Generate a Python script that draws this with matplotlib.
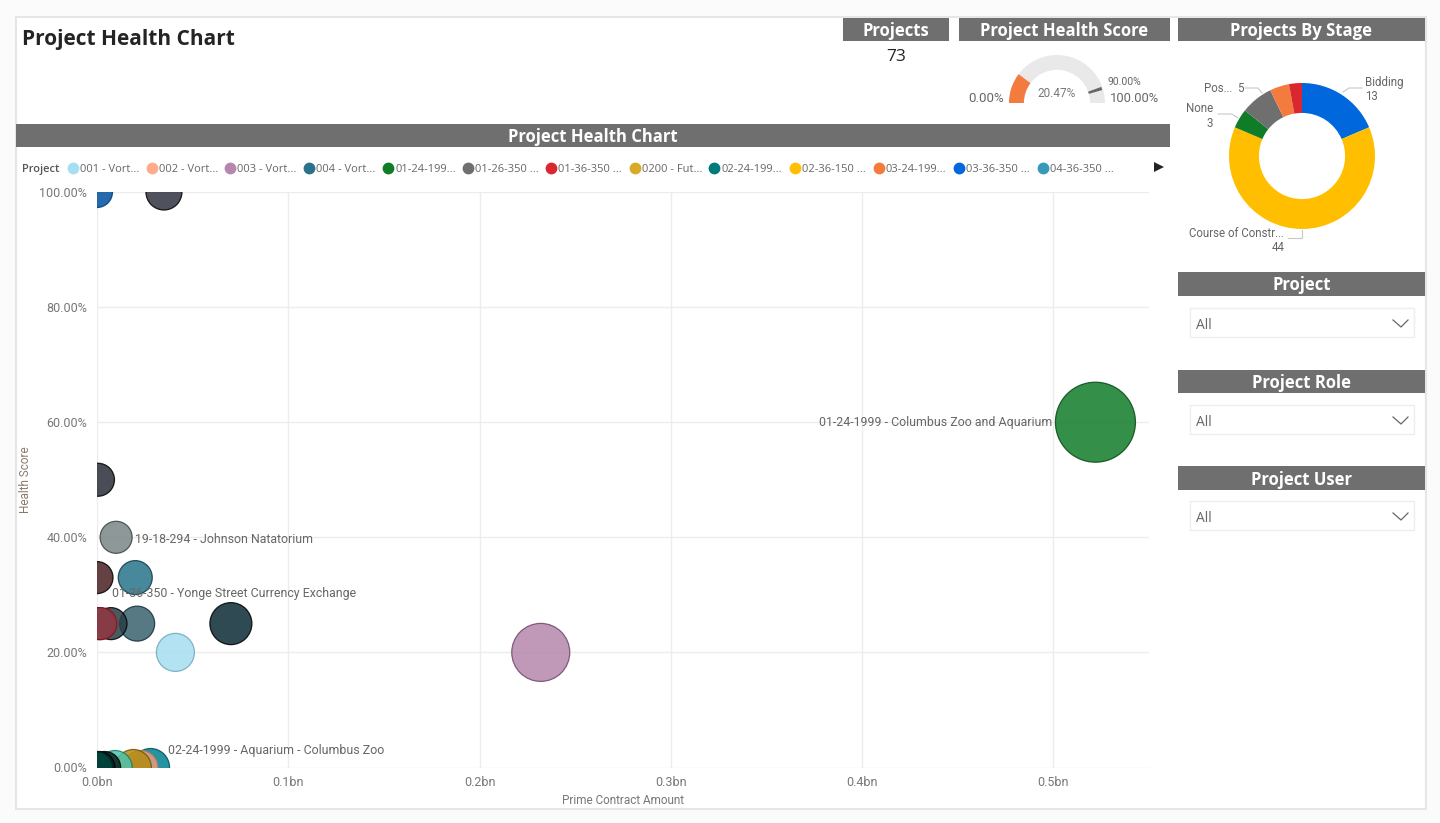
import matplotlib.pyplot as plt              #Biblioteca para gerar gráficos 2D
from matplotlib.patches import Rectangle, Wedge   #Formas usadas nos painéis e no medidor

plt.rcParams['font.family'] = ['Open Sans', 'DejaVu Sans']

cinza_barra = '#6f6f6f'
cinza_texto = '#777777'

#Dados do gráfico de bolhas
projetos_bolha = ['02-36', '01-36', '003', '004', '01-24', '01-26', '0200', '001', '002', '02-24', '03-36', '04-36', '03-24', '05-18', '05-36', '06-24', '07-36', '08-36', '09-24', '19-18', '10-36']
valor_contrato = [0.522, 0.232, 0.041, 0.070, 0.021, 0.0073, 0.001, 0.002, 0.020, 0.0, 0.010, 0.0005, 0.035, 0.0, 0.028, 0.023, 0.019, 0.0095, 0.004, 0.001, 0.0]
nota_saude = [60, 20, 20, 25, 25, 25, 25, 25, 33, 33, 40, 50, 100, 100, 0, 0, 0, 0, 0, 0, 0]
tamanho_bolha = [80, 58, 38, 42, 35, 32, 32, 32, 34, 32, 32, 33, 36, 31, 38, 34, 36, 34, 32, 32, 31]
cor_bolha = ['#107c28', '#b687ac', '#a6dff0', '#0b2a35', '#39626f', '#2a3d45', '#14405a', '#9a3a44', '#28738a', '#4a1f22', '#7a8686', '#2a2d38', '#30343f', '#004f9f', '#007f92', '#e59e7e', '#b58a10', '#4cc4ac', '#0a1d20', '#0a1d20', '#004840']
borda_bolha = ['#0a4a18', '#6e4868', '#6fa8ba', '#000000', '#14303a', '#000000', '#0a2030', '#8a0f18', '#0f3a48', '#000000', '#3a4444', '#000000', '#000000', '#003a78', '#004f5c', '#b07858', '#705408', '#1f7868', '#000000', '#000000', '#002a24']

#Dados da legenda
legenda_nomes = ['001 - Vort...', '002 - Vort...', '003 - Vort...', '004 - Vort...', '01-24-199...', '01-26-350 ...', '01-36-350 ...', '0200 - Fut...', '02-24-199...', '02-36-150 ...', '03-24-199...', '03-36-350 ...', '04-36-350 ...']
legenda_cores = ['#a6dff0', '#ffab8c', '#b687ac', '#28738a', '#107c28', '#6f6f6f', '#d9262f', '#d9a928', '#007a7a', '#ffbf00', '#f47b3e', '#0068dc', '#3599b8']

#Dados do gráfico de rosca
estagios = ['Bidding', 'Course of Construction', 'None', 'Post', 'Other', 'Pre']
estagios_valores = [13, 44, 3, 5, 3, 2]
estagios_cores = ['#0068dc', '#ffbf00', '#107c28', '#6f6f6f', '#f47b3e', '#d9262f']

#Dados do medidor e dos cartões
total_projetos = 73
nota_geral = 20.47
nota_alvo = 90.0


def eixo_em_pixels(fig, x0, y0, x1, y1):
    ax = fig.add_axes([x0 / 1440, 1 - y1 / 823, (x1 - x0) / 1440, (y1 - y0) / 823])
    return ax


def desenhar_paineis(fig):
    ax = fig.add_axes([0, 0, 1, 1])
    ax.set_xlim(0, 1440)
    ax.set_ylim(823, 0)
    ax.axis('off')
    ax.add_patch(Rectangle((15.5, 16.5), 1410, 792, facecolor='white', edgecolor='#e6e6e6', lw=1.5))
    ax.text(22, 39, 'Project Health Chart', fontsize=15, fontweight='bold', color='#252423', va='center')

    barras = [('Projects', 843, 949, 18, 41), ('Project Health Score', 959, 1170, 18, 41), ('Projects By Stage', 1178, 1425, 18, 41),
              ('Project Health Chart', 16, 1170, 124, 147), ('Project', 1178, 1425, 272, 296), ('Project Role', 1178, 1425, 370, 393), ('Project User', 1178, 1425, 466, 490)]
    for nome, x0, x1, y0, y1 in barras:
        ax.add_patch(Rectangle((x0, y0), x1 - x0, y1 - y0, color=cinza_barra, lw=0))
        ax.text((x0 + x1) / 2, (y0 + y1) / 2 + 1.5, nome, color='white', fontsize=12, fontweight='bold', ha='center', va='center')

    ax.text(896, 57, str(total_projetos), fontsize=12.5, color='#252423', ha='center', va='center')

    for y0 in [308, 405, 501]:  #Caixas de seleção
        ax.add_patch(Rectangle((1190, y0), 224, 29, facecolor='white', edgecolor='#eeeeee', lw=1))
        ax.text(1196, y0 + 17, 'All', fontsize=10, color='#666666', va='center')
        ax.plot([1393, 1401, 1408], [y0 + 12, y0 + 19, y0 + 12], color='#666666', lw=0.9)

    #Legenda
    ax.text(22, 169, 'Project', fontsize=8, fontweight='semibold', color='#555555', va='center')
    posicoes = [73, 152, 230, 309, 388, 468, 551, 635, 714, 795, 879, 959, 1043]
    for x, nome, cor in zip(posicoes, legenda_nomes, legenda_cores):
        ax.plot(x, 168, 'o', ms=8.5, color=cor, mew=0)
        ax.text(x + 7, 169, nome, fontsize=8, color='#666666', va='center')
    ax.plot(1159, 167, '>', ms=7, color='#252423', mew=0)

    #Rótulos da rosca
    rotulos = [(1365, 82, 'Bidding', 'left'), (1365, 96, '13', 'left'), (1204, 88, 'Pos...', 'left'), (1240, 88, '5', 'center'),
               (1213, 108, 'None', 'right'), (1213, 123, '3', 'right'), (1284, 233, 'Course of Constr...', 'right'), (1278, 247, '44', 'center')]
    for x, y, texto, alinhamento in rotulos:
        ax.text(x, y, texto, fontsize=8.3, color='#666666', family='Roboto', ha=alinhamento, va='center')
    linhas = [([1343, 1349, 1362], [92, 88, 88]), ([1245, 1258, 1262], [88, 88, 93]), ([1218, 1232, 1238], [114, 114, 118]), ([1288, 1302, 1302], [238, 238, 230])]
    for xs, ys in linhas:
        ax.plot(xs, ys, color='#c8c8c8', lw=0.8)

    #Rótulos do medidor
    ax.text(1057, 93, f'{nota_geral:.2f}%', fontsize=8.5, color='#777777', family='Roboto', ha='center', va='center')
    ax.text(1004, 98, '0.00%', fontsize=9.5, color='#666666', family='Roboto', ha='right', va='center')
    ax.text(1110, 98, '100.00%', fontsize=9.3, color='#666666', family='Roboto', ha='left', va='center')
    ax.text(1108, 82, f'{nota_alvo:.2f}%', fontsize=7.5, color='#666666', family='Roboto', ha='left', va='center')


def gerar_bolhas(fig):
    ax = eixo_em_pixels(fig, 97, 192, 1149, 767.5)
    ax.patch.set_alpha(0)
    area = [(d * 0.72) ** 2 for d in tamanho_bolha]  #Diâmetro em pixels para pontos ao quadrado
    ax.scatter(valor_contrato, nota_saude, s=area, c=cor_bolha, edgecolors=borda_bolha, linewidths=0.9, alpha=0.85, zorder=3)
    ax.set_xlim(0, 0.55)
    ax.set_ylim(0, 100)
    ax.set_xticks([0, 0.1, 0.2, 0.3, 0.4, 0.5])
    ax.set_xticklabels(['0.0bn', '0.1bn', '0.2bn', '0.3bn', '0.4bn', '0.5bn'])
    ax.set_yticks([0, 20, 40, 60, 80, 100])
    ax.set_yticklabels(['0.00%', '20.00%', '40.00%', '60.00%', '80.00%', '100.00%'])
    ax.tick_params(axis='x', length=0, labelsize=9, labelcolor=cinza_texto, pad=6)
    ax.tick_params(axis='y', length=0, labelsize=9, labelcolor=cinza_texto, pad=7)
    plt.setp(ax.get_xticklabels(), family='Roboto')
    plt.setp(ax.get_yticklabels(), family='Roboto')
    for lado in ax.spines.values():
        lado.set_visible(False)
    ax.grid(color='#ececec', lw=1)
    ax.set_axisbelow(True)
    ax.set_xlabel('Prime Contract Amount', fontsize=8.5, color=cinza_texto, family='Roboto', labelpad=4)
    ax.set_ylabel('Health Score', fontsize=8.5, color='#8a7a6a', family='Roboto', labelpad=5)

    texto = dict(fontsize=8.9, color='#666666', family='Roboto', va='center', zorder=4)
    ax.text(0.4995, 60, '01-24-1999 - Columbus Zoo and Aquarium', ha='right', **texto)
    ax.text(0.0200, 39.6, '19-18-294 - Johnson Natatorium', ha='left', **texto)
    ax.text(0.0080, 30.2, '01-36-350 - Yonge Street Currency Exchange', ha='left', **texto)
    ax.text(0.0370, 2.9, '02-24-1999 - Aquarium - Columbus Zoo', ha='left', **texto)


def gerar_rosca(fig):
    ax = eixo_em_pixels(fig, 1229, 83, 1375, 229)
    ax.pie(estagios_valores, colors=estagios_cores, startangle=90, counterclock=False, radius=1, wedgeprops={'width': 0.41})
    ax.set_xlim(-1, 1)
    ax.set_ylim(-1, 1)


def gerar_medidor(fig):
    ax = eixo_em_pixels(fig, 1009, 55, 1105, 103)
    ax.set_xlim(-1, 1)
    ax.set_ylim(0, 1)
    ax.axis('off')
    angulo = 180 * (1 - nota_geral / 100)
    ax.add_patch(Wedge((0, 0), 1, 0, 180, width=0.31, color='#e9e9e9', lw=0))
    ax.add_patch(Wedge((0, 0), 1, angulo, 180, width=0.31, color='#f47b3e', lw=0))
    alvo = 180 * (1 - nota_alvo / 100)
    ax.add_patch(Wedge((0, 0), 0.98, alvo - 2, alvo + 2, width=0.29, color='#666666', lw=0))


fig = plt.figure(figsize=(14.4, 8.23), facecolor='#fbfbfb')
desenhar_paineis(fig)
gerar_bolhas(fig)
gerar_rosca(fig)
gerar_medidor(fig)
plt.savefig('out.png', dpi=100)
